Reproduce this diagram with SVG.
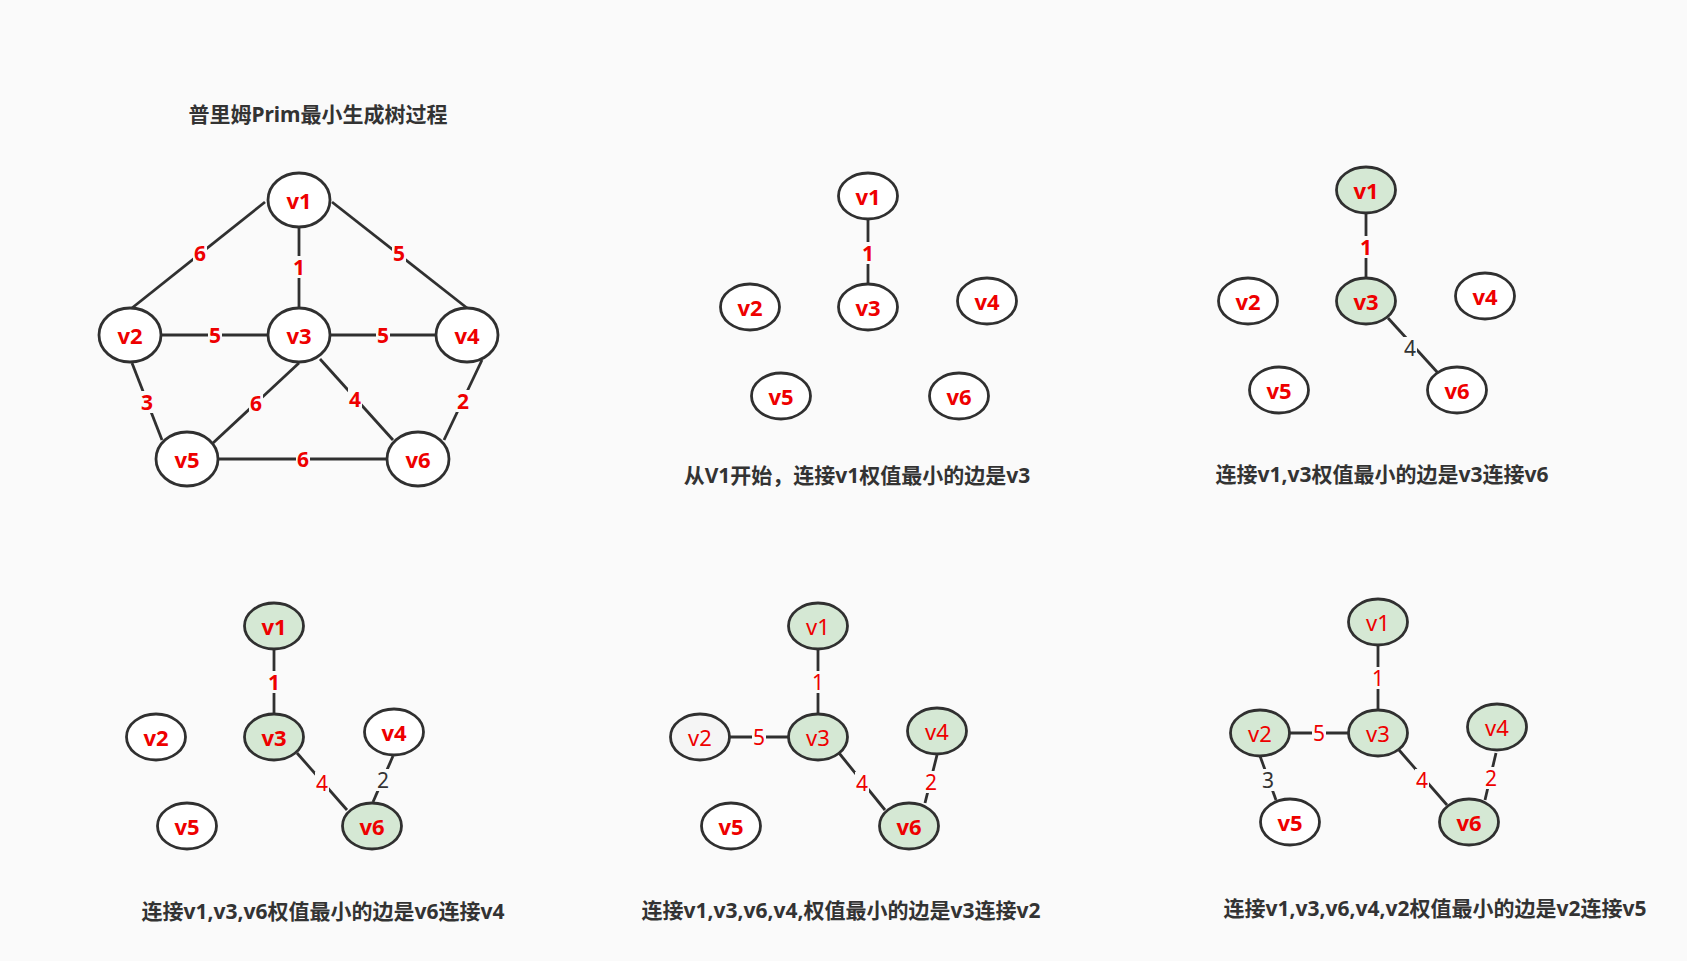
<svg xmlns="http://www.w3.org/2000/svg" width="1687" height="961" viewBox="0 0 1687 961">
  <style>
    .bg { fill: #fafafa; }
    .node { fill: #ffffff; stroke: #303030; stroke-width: 2.8; }
    .done { fill: #d5e8d4; }
    .grey { fill: #f5f5f5; }
    .nt { font-family: "Noto Sans", "Noto Sans CJK SC", sans-serif; font-size: 22px; fill: #ee0000; text-anchor: middle; dominant-baseline: central; }
    .b { font-weight: bold; }
    .edge { stroke: #303030; stroke-width: 2.8; fill: none; }
    .lb { fill: #fafafa; }
    .el { font-family: "Noto Sans", "Noto Sans CJK SC", sans-serif; font-size: 21px; fill: #ee0000; text-anchor: middle; dominant-baseline: central; }
    .dark { fill: #333333; }
    .cap { font-family: "Noto Sans", "Noto Sans CJK SC", sans-serif; font-size: 21px; font-weight: bold; fill: #333333; text-anchor: middle; }
  </style>

  <rect class="bg" x="0" y="0" width="1687" height="961"/>

  <!-- captions -->
  <g id="captions">
    <text class="cap" x="318" y="122">普里姆Prim最小生成树过程</text>
    <text class="cap" x="857" y="483">从V1开始，连接v1权值最小的边是v3</text>
    <text class="cap" x="1382" y="482">连接v1,v3权值最小的边是v3连接v6</text>
    <text class="cap" x="323" y="919">连接v1,v3,v6权值最小的边是v6连接v4</text>
    <text class="cap" x="841" y="918">连接v1,v3,v6,v4,权值最小的边是v3连接v2</text>
    <text class="cap" x="1435" y="916">连接v1,v3,v6,v4,v2权值最小的边是v2连接v5</text>
  </g>

  <!-- edges with weight labels -->
  <g id="connectors">
    <!-- full graph -->
    <line class="edge" x1="265" y1="202" x2="132" y2="308"/>
    <line class="edge" x1="299" y1="227" x2="299" y2="308"/>
    <line class="edge" x1="332" y1="202" x2="467" y2="308"/>
    <line class="edge" x1="161" y1="335" x2="268" y2="335"/>
    <line class="edge" x1="330" y1="335" x2="436" y2="335"/>
    <line class="edge" x1="132" y1="363" x2="162" y2="440"/>
    <line class="edge" x1="299" y1="363" x2="213" y2="443"/>
    <line class="edge" x1="320" y1="359" x2="393" y2="440"/>
    <line class="edge" x1="482" y1="360" x2="444" y2="440"/>
    <line class="edge" x1="219" y1="459" x2="387" y2="459"/>
    <rect class="lb" x="193" y="242" width="14" height="22"/>
    <rect class="lb" x="292" y="256" width="14" height="22"/>
    <rect class="lb" x="392" y="242" width="14" height="22"/>
    <rect class="lb" x="208" y="324" width="14" height="22"/>
    <rect class="lb" x="376" y="324" width="14" height="22"/>
    <rect class="lb" x="140" y="391" width="14" height="22"/>
    <rect class="lb" x="249" y="392" width="14" height="22"/>
    <rect class="lb" x="348" y="388" width="14" height="22"/>
    <rect class="lb" x="456" y="390" width="14" height="22"/>
    <rect class="lb" x="296" y="448" width="14" height="22"/>
    <text class="el b" x="200" y="253">6</text>
    <text class="el b" x="299" y="267">1</text>
    <text class="el b" x="399" y="253">5</text>
    <text class="el b" x="215" y="335">5</text>
    <text class="el b" x="383" y="335">5</text>
    <text class="el b" x="147" y="402">3</text>
    <text class="el b" x="256" y="403">6</text>
    <text class="el b" x="355" y="399">4</text>
    <text class="el b" x="463" y="401">2</text>
    <text class="el b" x="303" y="459">6</text>

    <!-- step 1 -->
    <line class="edge" x1="868" y1="219" x2="868" y2="284"/>
    <rect class="lb" x="861" y="242" width="14" height="22"/>
    <text class="el b" x="868" y="253">1</text>

    <!-- step 2 -->
    <line class="edge" x1="1366" y1="213" x2="1366" y2="278"/>
    <line class="edge" x1="1388" y1="318" x2="1438" y2="373"/>
    <rect class="lb" x="1359" y="236" width="14" height="22"/>
    <rect class="lb" x="1403" y="337" width="14" height="22"/>
    <text class="el b" x="1366" y="247">1</text>
    <text class="el dark" x="1410" y="348">4</text>

    <!-- step 3 -->
    <line class="edge" x1="274" y1="649" x2="274" y2="714"/>
    <line class="edge" x1="297" y1="753" x2="347" y2="810"/>
    <line class="edge" x1="393" y1="756" x2="373" y2="802"/>
    <rect class="lb" x="267" y="671" width="14" height="22"/>
    <rect class="lb" x="315" y="772" width="14" height="22"/>
    <rect class="lb" x="376" y="769" width="14" height="22"/>
    <text class="el b" x="274" y="682">1</text>
    <text class="el" x="322" y="783">4</text>
    <text class="el dark" x="383" y="780">2</text>

    <!-- step 4 -->
    <line class="edge" x1="818" y1="649" x2="818" y2="714"/>
    <line class="edge" x1="729" y1="737" x2="789" y2="737"/>
    <line class="edge" x1="839" y1="753" x2="885" y2="810"/>
    <line class="edge" x1="937" y1="755" x2="925" y2="803"/>
    <rect class="lb" x="811" y="671" width="14" height="22"/>
    <rect class="lb" x="752" y="726" width="14" height="22"/>
    <rect class="lb" x="855" y="772" width="14" height="22"/>
    <rect class="lb" x="924" y="771" width="14" height="22"/>
    <text class="el" x="818" y="682">1</text>
    <text class="el" x="759" y="737">5</text>
    <text class="el" x="862" y="783">4</text>
    <text class="el" x="931" y="782">2</text>

    <!-- step 5 -->
    <line class="edge" x1="1378" y1="645" x2="1378" y2="710"/>
    <line class="edge" x1="1289" y1="733" x2="1349" y2="733"/>
    <line class="edge" x1="1260" y1="756" x2="1276" y2="800"/>
    <line class="edge" x1="1399" y1="750" x2="1447" y2="805"/>
    <line class="edge" x1="1496" y1="753" x2="1485" y2="800"/>
    <rect class="lb" x="1371" y="667" width="14" height="22"/>
    <rect class="lb" x="1312" y="722" width="14" height="22"/>
    <rect class="lb" x="1261" y="769" width="14" height="22"/>
    <rect class="lb" x="1415" y="769" width="14" height="22"/>
    <rect class="lb" x="1484" y="767" width="14" height="22"/>
    <text class="el" x="1378" y="678">1</text>
    <text class="el" x="1319" y="733">5</text>
    <text class="el dark" x="1268" y="780">3</text>
    <text class="el" x="1422" y="780">4</text>
    <text class="el" x="1491" y="778">2</text>
  </g>

  <!-- full graph nodes -->
  <g id="g0-v1"><ellipse class="node" cx="299" cy="200" rx="31" ry="27"/><text class="nt b" x="299" y="200">v1</text></g>
  <g id="g0-v2"><ellipse class="node" cx="130" cy="335" rx="31" ry="27"/><text class="nt b" x="130" y="335">v2</text></g>
  <g id="g0-v3"><ellipse class="node" cx="299" cy="335" rx="31" ry="27"/><text class="nt b" x="299" y="335">v3</text></g>
  <g id="g0-v4"><ellipse class="node" cx="467" cy="335" rx="31" ry="27"/><text class="nt b" x="467" y="335">v4</text></g>
  <g id="g0-v5"><ellipse class="node" cx="187" cy="459" rx="31" ry="27"/><text class="nt b" x="187" y="459">v5</text></g>
  <g id="g0-v6"><ellipse class="node" cx="418" cy="459" rx="31" ry="27"/><text class="nt b" x="418" y="459">v6</text></g>

  <!-- step 1 nodes -->
  <g id="g1-v1"><ellipse class="node" cx="868" cy="196" rx="29.5" ry="23"/><text class="nt b" x="868" y="196">v1</text></g>
  <g id="g1-v2"><ellipse class="node" cx="750" cy="307" rx="29.5" ry="23"/><text class="nt b" x="750" y="307">v2</text></g>
  <g id="g1-v3"><ellipse class="node" cx="868" cy="307" rx="29.5" ry="23"/><text class="nt b" x="868" y="307">v3</text></g>
  <g id="g1-v4"><ellipse class="node" cx="987" cy="301" rx="29.5" ry="23"/><text class="nt b" x="987" y="301">v4</text></g>
  <g id="g1-v5"><ellipse class="node" cx="781" cy="396" rx="29.5" ry="23"/><text class="nt b" x="781" y="396">v5</text></g>
  <g id="g1-v6"><ellipse class="node" cx="959" cy="396" rx="29.5" ry="23"/><text class="nt b" x="959" y="396">v6</text></g>

  <!-- step 2 nodes -->
  <g id="g2-v1"><ellipse class="node done" cx="1366" cy="190" rx="29.5" ry="23"/><text class="nt b" x="1366" y="190">v1</text></g>
  <g id="g2-v2"><ellipse class="node" cx="1248" cy="301" rx="29.5" ry="23"/><text class="nt b" x="1248" y="301">v2</text></g>
  <g id="g2-v3"><ellipse class="node done" cx="1366" cy="301" rx="29.5" ry="23"/><text class="nt b" x="1366" y="301">v3</text></g>
  <g id="g2-v4"><ellipse class="node" cx="1485" cy="296" rx="29.5" ry="23"/><text class="nt b" x="1485" y="296">v4</text></g>
  <g id="g2-v5"><ellipse class="node" cx="1279" cy="390" rx="29.5" ry="23"/><text class="nt b" x="1279" y="390">v5</text></g>
  <g id="g2-v6"><ellipse class="node" cx="1457" cy="390" rx="29.5" ry="23"/><text class="nt b" x="1457" y="390">v6</text></g>

  <!-- step 3 nodes -->
  <g id="g3-v1"><ellipse class="node done" cx="274" cy="626" rx="29.5" ry="23"/><text class="nt b" x="274" y="626">v1</text></g>
  <g id="g3-v2"><ellipse class="node" cx="156" cy="737" rx="29.5" ry="23"/><text class="nt b" x="156" y="737">v2</text></g>
  <g id="g3-v3"><ellipse class="node done" cx="274" cy="737" rx="29.5" ry="23"/><text class="nt b" x="274" y="737">v3</text></g>
  <g id="g3-v4"><ellipse class="node" cx="394" cy="732" rx="29.5" ry="23"/><text class="nt b" x="394" y="732">v4</text></g>
  <g id="g3-v5"><ellipse class="node" cx="187" cy="826" rx="29.5" ry="23"/><text class="nt b" x="187" y="826">v5</text></g>
  <g id="g3-v6"><ellipse class="node done" cx="372" cy="826" rx="29.5" ry="23"/><text class="nt b" x="372" y="826">v6</text></g>

  <!-- step 4 nodes -->
  <g id="g4-v1"><ellipse class="node done" cx="818" cy="626" rx="29.5" ry="23"/><text class="nt" x="818" y="626">v1</text></g>
  <g id="g4-v2"><ellipse class="node grey" cx="700" cy="737" rx="29.5" ry="23"/><text class="nt" x="700" y="737">v2</text></g>
  <g id="g4-v3"><ellipse class="node done" cx="818" cy="737" rx="29.5" ry="23"/><text class="nt" x="818" y="737">v3</text></g>
  <g id="g4-v4"><ellipse class="node done" cx="937" cy="731" rx="29.5" ry="23"/><text class="nt" x="937" y="731">v4</text></g>
  <g id="g4-v5"><ellipse class="node" cx="731" cy="826" rx="29.5" ry="23"/><text class="nt b" x="731" y="826">v5</text></g>
  <g id="g4-v6"><ellipse class="node done" cx="909" cy="826" rx="29.5" ry="23"/><text class="nt b" x="909" y="826">v6</text></g>

  <!-- step 5 nodes -->
  <g id="g5-v1"><ellipse class="node done" cx="1378" cy="622" rx="29.5" ry="23"/><text class="nt" x="1378" y="622">v1</text></g>
  <g id="g5-v2"><ellipse class="node done" cx="1260" cy="733" rx="29.5" ry="23"/><text class="nt" x="1260" y="733">v2</text></g>
  <g id="g5-v3"><ellipse class="node done" cx="1378" cy="733" rx="29.5" ry="23"/><text class="nt" x="1378" y="733">v3</text></g>
  <g id="g5-v4"><ellipse class="node done" cx="1497" cy="727" rx="29.5" ry="23"/><text class="nt" x="1497" y="727">v4</text></g>
  <g id="g5-v5"><ellipse class="node" cx="1290" cy="822" rx="29.5" ry="23"/><text class="nt b" x="1290" y="822">v5</text></g>
  <g id="g5-v6"><ellipse class="node done" cx="1469" cy="822" rx="29.5" ry="23"/><text class="nt b" x="1469" y="822">v6</text></g>
</svg>
